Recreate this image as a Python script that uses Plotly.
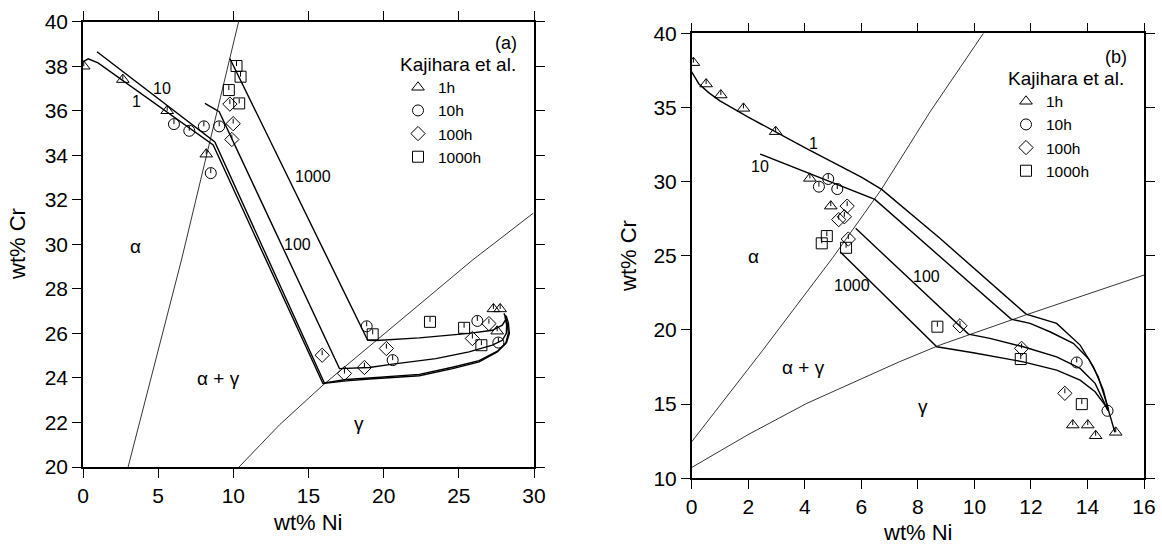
import plotly.graph_objects as go

FONT = "Liberation Sans, Arial, Helvetica, sans-serif"

# ---------------- Panel (a) data ----------------
tri_a_x = [0.05, 2.65, 5.6, 8.2, 27.3, 27.75, 27.55]
tri_a_y = [38.0, 37.4, 36.0, 34.05, 27.1, 27.1, 26.1]
circ_a_x = [6.05, 7.07, 8.04, 9.06, 8.5, 18.87, 20.6, 26.23, 27.63]
circ_a_y = [35.4, 35.1, 35.3, 35.3, 33.2, 26.32, 24.8, 26.56, 25.59]
dia_a_x = [9.77, 9.99, 9.9, 15.91, 17.39, 18.72, 20.18, 25.9, 27.0]
dia_a_y = [36.3, 35.42, 34.71, 25.02, 24.2, 24.47, 25.32, 25.77, 26.44]
sq_a_x = [10.21, 10.48, 9.7, 10.39, 19.27, 23.08, 25.35, 26.5]
sq_a_y = [38.01, 37.53, 36.93, 36.33, 25.96, 26.52, 26.25, 25.47]

path1_a_x = [0, 0.35, 1.0, 8.66, 15.96, 17.5, 19.05, 22.37, 24.58, 26.35, 27.56, 28.12, 28.29, 28.22, 28.07]
path1_a_y = [38.2, 38.33, 38.15, 34.46, 23.75, 23.87, 23.95, 24.1, 24.42, 24.72, 25.17, 25.55, 26.0, 26.45, 26.82]
path10_a_x = [0.93, 8.77, 16.05, 17.5, 19.05, 22.37, 24.58, 26.35, 27.6, 28.18, 28.36, 28.3, 28.15]
path10_a_y = [38.65, 34.6, 23.78, 23.93, 24.0, 24.16, 24.48, 24.78, 25.22, 25.6, 26.0, 26.45, 26.8]
path100_a_x = [8.11, 9.06, 17.06, 19.05, 20.6, 23.47, 25.68, 27.23, 27.89, 28.16, 28.18, 28.07]
path100_a_y = [36.33, 35.96, 24.42, 24.47, 24.62, 24.87, 25.17, 25.47, 25.69, 26.0, 26.37, 26.74]
path1000_a_x = [9.77, 18.94, 19.5, 22.37, 25.68, 27.23, 27.89, 28.16, 28.0]
path1000_a_y = [38.35, 25.69, 25.68, 25.8, 26.0, 26.14, 26.37, 26.67, 26.9]

alpha_a_x = [3.0, 6.55, 10.35]
alpha_a_y = [20, 29.3, 40]
gamma_a_x = [10.38, 13.08, 16.0, 25.9, 29.95]
gamma_a_y = [20, 21.9, 23.7, 29.29, 31.4]

# ---------------- Panel (b) data ----------------
tri_b_x = [0.06, 0.51, 1.03, 1.83, 2.97, 4.18, 4.92, 13.48, 14.01, 14.29, 15.0]
tri_b_y = [38.02, 36.58, 35.84, 34.94, 33.37, 30.22, 28.35, 13.59, 13.59, 12.87, 13.1]
circ_b_x = [4.5, 4.83, 5.15, 13.62, 14.71]
circ_b_y = [29.66, 30.18, 29.5, 17.81, 14.55]
dia_b_x = [5.5, 5.2, 5.4, 5.54, 9.49, 11.67, 13.2]
dia_b_y = [28.35, 27.44, 27.63, 26.13, 20.28, 18.76, 15.73]
sq_b_x = [4.6, 4.78, 5.46, 8.69, 11.64, 13.8]
sq_b_y = [25.84, 26.33, 25.54, 20.22, 18.04, 15.0]

path1_b_x = [0, 0.25, 0.6, 1.0, 2.0, 3.0, 4.0, 5.0, 6.0, 6.72, 8.78, 11.83, 12.91, 13.74, 14.21, 14.56, 14.74, 14.97]
path1_b_y = [37.4, 36.6, 36.0, 35.45, 34.35, 33.3, 32.3, 31.3, 30.3, 29.48, 26.18, 21.07, 20.44, 18.98, 17.52, 15.95, 14.6, 13.1]
path10_b_x = [2.42, 6.48, 11.3, 11.97, 12.67, 13.5, 14.03, 14.38, 14.68, 14.75]
path10_b_y = [31.86, 28.8, 20.73, 20.44, 19.88, 19.1, 18.08, 16.85, 15.05, 14.6]
path100_b_x = [5.8, 9.79, 10.55, 11.73, 12.91, 13.74, 14.27, 14.62, 14.72]
path100_b_y = [26.85, 19.72, 19.43, 18.87, 18.19, 17.41, 16.4, 15.05, 14.6]
path1000_b_x = [5.25, 8.67, 9.96, 11.73, 12.91, 13.74, 14.27, 14.62, 14.72]
path1000_b_y = [25.27, 18.87, 18.46, 17.85, 17.29, 16.62, 15.83, 14.94, 14.6]

alpha_b_x = [0, 2.5, 5.0, 6.7, 8.43, 10.32]
alpha_b_y = [12.46, 18.6, 24.9, 29.45, 34.7, 40]
gamma_b_x = [0, 2.0, 4.07, 7.34, 8.79, 11.8, 16]
gamma_b_y = [10.73, 12.95, 15.05, 17.85, 18.99, 21.0, 23.7]

legend_names = ["1h", "10h", "100h", "1000h"]
symbols = ["triangle-up-open", "circle-open", "diamond-open", "square-open"]

fig = go.Figure()

def add_line(x, y, xa, ya, width):
    fig.add_trace(go.Scatter(x=x, y=y, mode="lines", xaxis=xa, yaxis=ya,
                             line=dict(color="black", width=width),
                             showlegend=False, hoverinfo="skip"))

def add_ticks(xs, ys, xa, ya, dy):
    sx, sy = [], []
    for x, y in zip(xs, ys):
        sx += [x, x, None]
        sy += [y, y + dy, None]
    fig.add_trace(go.Scatter(x=sx, y=sy, mode="lines", xaxis=xa, yaxis=ya,
                             line=dict(color="black", width=1),
                             showlegend=False, hoverinfo="skip"))

# panel a lines
add_line(alpha_a_x, alpha_a_y, "x", "y", 0.8)
add_line(gamma_a_x, gamma_a_y, "x", "y", 0.8)
for px_, py_ in [(path1_a_x, path1_a_y), (path10_a_x, path10_a_y),
                 (path100_a_x, path100_a_y), (path1000_a_x, path1000_a_y)]:
    add_line(px_, py_, "x", "y", 1.4)

# panel b lines
add_line(alpha_b_x, alpha_b_y, "x2", "y2", 0.8)
add_line(gamma_b_x, gamma_b_y, "x2", "y2", 0.8)
for px_, py_ in [(path1_b_x, path1_b_y), (path10_b_x, path10_b_y),
                 (path100_b_x, path100_b_y), (path1000_b_x, path1000_b_y)]:
    add_line(px_, py_, "x2", "y2", 1.4)

sets_a = [(tri_a_x, tri_a_y), (circ_a_x, circ_a_y), (dia_a_x, dia_a_y), (sq_a_x, sq_a_y)]
sets_b = [(tri_b_x, tri_b_y), (circ_b_x, circ_b_y), (dia_b_x, dia_b_y), (sq_b_x, sq_b_y)]

for i, (xs, ys) in enumerate(sets_a):
    add_ticks(xs, ys, "x", "y", 0.22)
    fig.add_trace(go.Scatter(x=xs, y=ys, mode="markers", xaxis="x", yaxis="y",
                             name=legend_names[i], legend="legend",
                             marker=dict(symbol=symbols[i], size=11, color="black",
                                         line=dict(width=1, color="black"))))
for i, (xs, ys) in enumerate(sets_b):
    add_ticks(xs, ys, "x2", "y2", 0.33)
    fig.add_trace(go.Scatter(x=xs, y=ys, mode="markers", xaxis="x2", yaxis="y2",
                             name=legend_names[i], legend="legend2",
                             marker=dict(symbol=symbols[i], size=11, color="black",
                                         line=dict(width=1, color="black"))))

axis_common = dict(showline=True, linecolor="black", linewidth=1.5, mirror="ticks",
                   ticks="outside", ticklen=9, tickwidth=1.2, tickcolor="black",
                   showgrid=False, zeroline=False, automargin=False,
                   tickfont=dict(family=FONT, size=21, color="black"))

# the page body margin is removed below, so the figure fills the window exactly
W, H = 1162, 544

def fx(px):
    return px / W

def fy(py):
    return 1 - py / H

def ann(text, x, y, xref, yref, size, **kw):
    d = dict(text=text, x=x, y=y, xref=xref, yref=yref, showarrow=False,
             xanchor="center", yanchor="middle",
             font=dict(family=FONT, size=size, color="black"))
    d.update(kw)
    return d

annotations = [
    # axis titles
    ann("wt% Cr", fx(18), fy(244), "paper", "paper", 22, textangle=-90),
    ann("wt% Ni", fx(307), fy(522), "paper", "paper", 22),
    ann("wt% Cr", fx(628), fy(256), "paper", "paper", 22, textangle=-90),
    ann("wt% Ni", fx(917), fy(532), "paper", "paper", 22),
    # panel tags
    ann("(a)", fx(519), fy(43), "paper", "paper", 18, xanchor="right"),
    ann("(b)", fx(1129), fy(57), "paper", "paper", 18, xanchor="right"),
    # panel a labels
    ann("α", 3.47, 29.89, "x", "y", 19),
    ann("α + γ", 9.0, 23.97, "x", "y", 19),
    ann("γ", 18.34, 21.95, "x", "y", 19),
    ann("10", 5.24, 37.0, "x", "y", 16),
    ann("1", 3.58, 36.4, "x", "y", 16),
    ann("1000", 15.29, 33.03, "x", "y", 16),
    ann("100", 14.3, 30.0, "x", "y", 16),
    # panel b labels
    ann("α", 2.18, 24.94, "x2", "y2", 19),
    ann("α + γ", 3.95, 17.48, "x2", "y2", 19),
    ann("γ", 8.19, 14.82, "x2", "y2", 19),
    ann("1", 4.32, 32.58, "x2", "y2", 16),
    ann("10", 2.42, 31.0, "x2", "y2", 16),
    ann("1000", 5.66, 23.03, "x2", "y2", 16),
    ann("100", 8.31, 23.59, "x2", "y2", 16),
]

legend_style = dict(bgcolor="rgba(0,0,0,0)", borderwidth=0,
                    font=dict(family=FONT, size=15.5, color="black"),
                    title=dict(text="Kajihara et al.", side="top",
                               font=dict(family=FONT, size=19, color="black")),
                    tracegroupgap=0, itemsizing="trace",
                    xanchor="left", yanchor="top")

fig.update_layout(
    width=W, height=H,
    margin=dict(l=0, r=0, t=0, b=0, autoexpand=False),
    paper_bgcolor="white", plot_bgcolor="white",
    font=dict(family=FONT, color="black"),
    xaxis=dict(domain=[fx(83), fx(534)], range=[0, 30], anchor="y",
               tickvals=[0, 5, 10, 15, 20, 25, 30], **axis_common),
    yaxis=dict(domain=[fy(467), fy(21.7)], range=[20, 40], anchor="x",
               tickvals=list(range(20, 41, 2)), **axis_common),
    xaxis2=dict(domain=[fx(691.7), fx(1144)], range=[0, 16], anchor="y2",
                tickvals=list(range(0, 17, 2)), **axis_common),
    yaxis2=dict(domain=[fy(478.3), fy(33.3)], range=[10, 40], anchor="x2",
                tickvals=list(range(10, 41, 5)), **axis_common),
    legend=dict(x=fx(398), y=fy(46), **legend_style),
    legend2=dict(x=fx(1006), y=fy(60), **legend_style),
    annotations=annotations,
)

fig.write_html("out.html",
               config={"displayModeBar": False},
               post_script="document.body.style.margin='0';"
                           "document.body.style.overflow='hidden';")
